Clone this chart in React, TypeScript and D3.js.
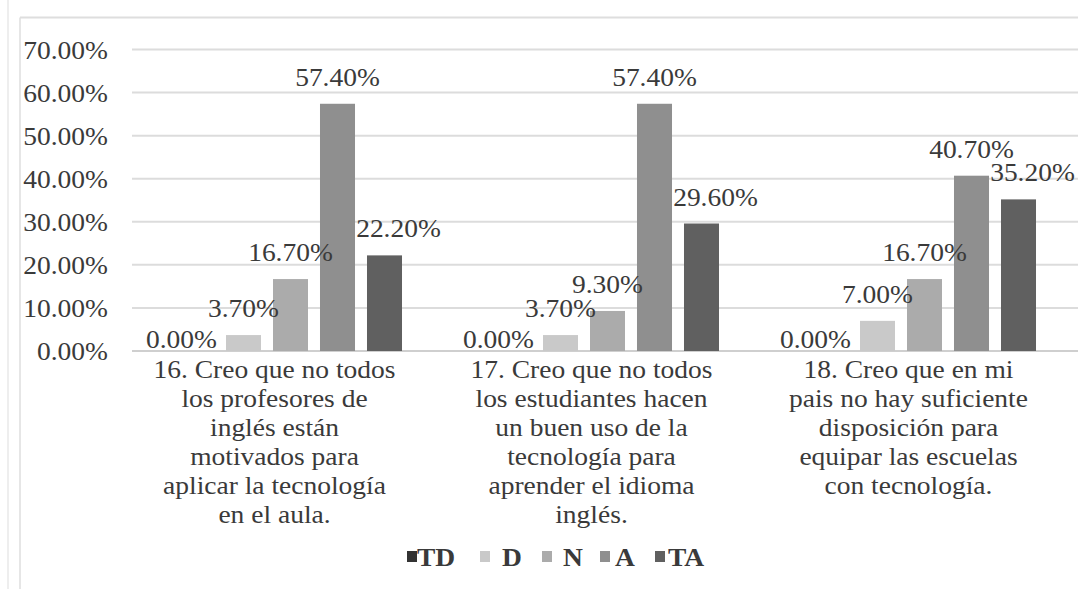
import React from "react";
import * as d3 from "d3";

const categories = [
  ["16. Creo que no todos", "los profesores de", "inglés están", "motivados para", "aplicar la tecnología", "en el aula."],
  ["17. Creo que no todos", "los estudiantes hacen", "un buen uso de la", "tecnología para", "aprender el idioma", "inglés."],
  ["18. Creo que en mi", "pais no hay suficiente", "disposición para", "equipar las escuelas", "con tecnología."],
];
const series = ["TD", "D", "N", "A", "TA"];
const valuesTD = [0.0, 0.0, 0.0];
const valuesD = [0.037, 0.037, 0.07];
const valuesN = [0.167, 0.093, 0.167];
const valuesA = [0.574, 0.574, 0.407];
const valuesTA = [0.222, 0.296, 0.352];
const yTicks = [0, 0.1, 0.2, 0.3, 0.4, 0.5, 0.6, 0.7];

const seriesValues = [valuesTD, valuesD, valuesN, valuesA, valuesTA];
const colors = ["#333333", "#c9c9c9", "#ababab", "#8f8f8f", "#606060"];
const labelDx = [-15, 0, 0, 0, 14];

const W = 1078;
const H = 589;
const FONT = "Liberation Serif";
const SX = 1.1;
const TXT = "#3a3a3a";

function T({ x, y, anchor = "middle", size = 25, weight = "normal", children }: any) {
  return (
    <text
      transform={`translate(${x},${y}) scale(${SX},1)`}
      textAnchor={anchor}
      style={{ fontFamily: FONT, fontSize: size, fontWeight: weight }}
      fill={TXT}
    >
      {children}
    </text>
  );
}

export default function App() {
  const x0 = d3.scaleBand<number>().domain([0, 1, 2]).range([132, 1083]);
  const bw = x0.bandwidth();
  const inner = 235;
  const x1 = d3
    .scaleBand<string>()
    .domain(series)
    .range([(bw - inner) / 2, (bw + inner) / 2])
    .paddingInner(0.255)
    .paddingOuter(0.1275);
  const y = d3.scaleLinear().domain([0, 0.7]).range([351, 49.5]);
  const fmt = d3.format(".2%");

  const legendX = [407, 480, 542, 600, 655];
  const legendTX = [417, 502, 563, 615, 668];

  return (
    <svg width={W} height={H} style={{ position: "absolute", left: 0, top: 0, background: "#fff" }}>
      <rect x={0} y={0} width={W} height={H} fill="#fff" />
      <line x1={8} x2={8} y1={0} y2={H} stroke="#e8e8e8" strokeWidth={1.5} />
      <line x1={20} x2={20} y1={17.5} y2={H} stroke="#dedede" strokeWidth={1.5} />
      <line x1={20} x2={W} y1={17.5} y2={17.5} stroke="#dedede" strokeWidth={2} />

      {yTicks.map((t) => (
        <g key={t}>
          <line x1={132} x2={W} y1={y(t)} y2={y(t)} stroke={t === 0 ? "#cfcfcf" : "#dcdcdc"} strokeWidth={2} />
          <T x={108} y={y(t) + 9} anchor="end">
            {fmt(t)}
          </T>
        </g>
      ))}

      {categories.map((cat, ci) => (
        <g key={ci} transform={`translate(${x0(ci)},0)`}>
          {series.map((s, si) => {
            const v = seriesValues[si][ci];
            return (
              <rect
                key={s}
                x={x1(s)}
                y={y(v)}
                width={x1.bandwidth()}
                height={y(0) - y(v)}
                fill={colors[si]}
              />
            );
          })}
          {series.map((s, si) => {
            const v = seriesValues[si][ci];
            return (
              <T key={s} x={(x1(s) as number) + x1.bandwidth() / 2 + labelDx[si]} y={y(v) - (v === 0 ? 3 : 18)}>
                {fmt(v)}
              </T>
            );
          })}
          {cat.map((line, li) => (
            <T key={li} x={bw / 2 - 16} y={378 + li * 29}>
              {line}
            </T>
          ))}
        </g>
      ))}

      {series.map((s, si) => (
        <g key={s}>
          <rect x={legendX[si]} y={551} width={10} height={11} fill={colors[si]} />
          <T x={legendTX[si]} y={566} anchor="start" size={25} weight="bold">
            {s}
          </T>
        </g>
      ))}
    </svg>
  );
}
